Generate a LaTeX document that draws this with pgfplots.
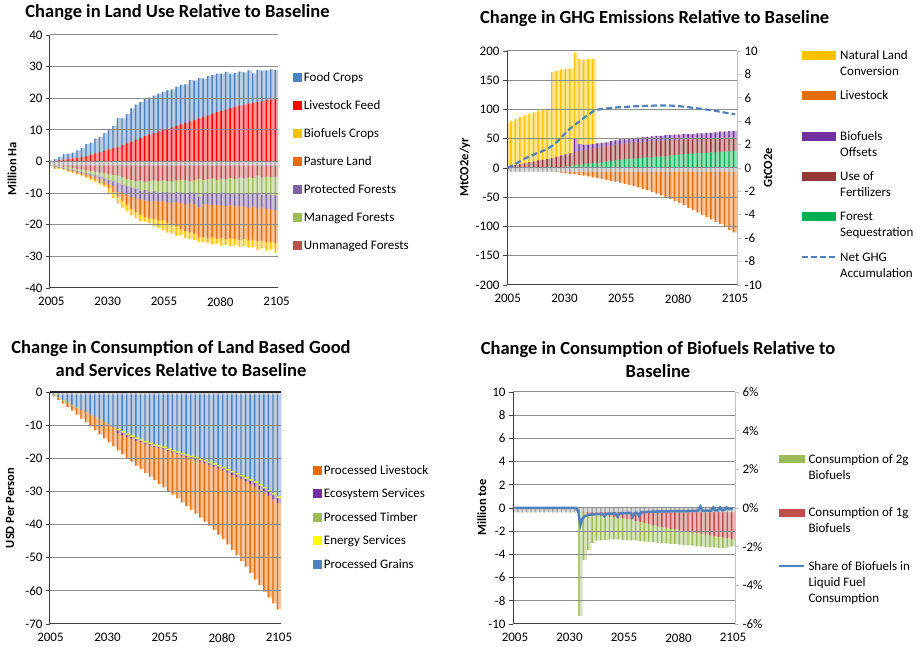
\documentclass[border=0pt]{standalone}
\usepackage{pgfplots}
\pgfplotsset{compat=1.18}
\usepackage{pgfplotstable}
\usepackage{fontspec}
\setmainfont{Carlito}
\definecolor{cBlue}{HTML}{4F81BD}
\definecolor{cRed}{HTML}{FF0000}
\definecolor{cGold}{HTML}{FFC000}
\definecolor{cOrange}{HTML}{E46C0A}
\definecolor{cLav}{HTML}{8064A2}
\definecolor{cOlive}{HTML}{9BBB59}
\definecolor{cBrick}{HTML}{C0504D}
\definecolor{cGray}{HTML}{A6A6A6}
\definecolor{cPurple}{HTML}{7030A0}
\definecolor{cMaroon}{HTML}{953735}
\definecolor{cGreen}{HTML}{00B050}
\definecolor{cYellow}{HTML}{FFFF00}
\definecolor{gridc}{HTML}{8C8C8C}
\definecolor{axc}{HTML}{404040}
\definecolor{axr}{HTML}{BFBFBF}

\newcommand\tl{\fontsize{13}{16}\selectfont}
\newcommand\lbl{\bfseries\fontsize{12.5}{15}\selectfont}
\newcommand\ttl{\bfseries\fontsize{18.5}{23}\selectfont}
\newcommand\lt[2]{\parbox[t][#1][t]{125pt}{\raggedright\strut #2}}
\newcommand\lbox[3]{\addlegendimage{legend image code/.code={\fill[#1] (0pt,{4.3pt-#3/2}) rectangle (#2,{4.3pt+#3/2});}}}
\newcommand\lline[2]{\addlegendimage{legend image code/.code={\draw[#1] (0pt,4.3pt) -- (#2,4.3pt);}}}

\pgfplotsset{
  base/.style={
    scale only axis, ybar, axis on top,
    tick label style={font=\tl},
    /pgf/number format/assume math mode=true,
    ymajorgrids, grid style={gridc, line width=1pt},
    axis x line*=bottom, axis y line*=left,
    axis line style={axc, line width=1pt, -},
    xtick={2005,2030,2055,2080,2105},
    x tick label style={/pgf/number format/1000 sep={}},
    xtick style={draw=none},
    ytick style={axc, line width=0.8pt},
    tick align=outside, major tick length=4pt,
    xticklabel style={yshift=-2pt},
    ylabel style={font=\lbl, anchor=center},
  },
  sec/.style={
    scale only axis, axis x line=none, axis y line*=right,
    axis line style={axr, line width=1pt, -},
    ytick style={axr, line width=0.8pt}, tick align=outside, major tick length=4pt,
    tick label style={font=\tl},
    /pgf/number format/assume math mode=true,
    ylabel style={font=\lbl, anchor=center},
  },
  leg/.style={legend cell align=left,
    legend style={draw=none, fill=none, inner sep=0pt, outer sep=0pt, font=\tl,
      anchor=north west, cells={anchor=base west}, nodes={inner sep=0pt}}},
  pale/.style={fill=#1!40!white, draw=none, bar width=4.5pt, bar shift=0pt, forget plot},
  dark/.style={fill=#1, draw=none, bar width=1.4pt, bar shift=-1.4pt, forget plot},
}

\pgfplotstableread{
x food feed gray U M P O Y
2005 0.3 0.0 -1.2 -1.2 -1.3 -1.3 -1.4 -1.5
2007 0.8 0.2 -1.2 -1.3 -1.5 -1.6 -2.2 -2.3
2009 1.5 0.4 -1.2 -1.4 -1.8 -2.0 -2.0 -2.3
2011 2.4 0.6 -1.2 -1.6 -2.0 -2.3 -2.4 -2.7
2013 2.5 0.8 -1.2 -1.8 -2.3 -2.6 -3.0 -3.3
2015 2.8 1.0 -1.2 -2.0 -2.6 -2.9 -3.3 -3.6
2017 3.5 1.2 -1.2 -2.3 -3.0 -3.3 -3.8 -4.1
2019 4.3 1.4 -1.2 -2.6 -3.3 -3.7 -4.3 -4.6
2021 5.5 1.8 -1.2 -2.9 -3.6 -4.1 -4.8 -5.2
2023 6.0 2.2 -1.2 -3.0 -4.0 -4.5 -5.4 -5.9
2025 7.2 2.6 -1.2 -3.2 -4.3 -5.0 -6.0 -6.5
2027 7.8 3.0 -1.2 -3.5 -4.8 -5.6 -6.8 -7.3
2029 9.0 3.4 -1.2 -3.7 -5.3 -6.2 -7.4 -8.0
2031 10.0 3.8 -1.2 -4.0 -5.8 -7.0 -8.4 -10.0
2033 11.3 4.2 -1.2 -4.2 -6.3 -7.8 -9.6 -11.5
2035 13.8 4.6 -1.2 -4.5 -6.8 -9.6 -11.2 -13.3
2037 13.6 5.2 -1.2 -5.0 -7.3 -10.0 -12.5 -14.6
2039 15.0 5.7 -1.2 -5.5 -7.8 -10.6 -13.6 -15.6
2041 16.8 6.3 -1.2 -5.8 -8.2 -11.2 -15.0 -17.0
2043 18.0 6.9 -1.2 -6.2 -8.6 -11.6 -15.9 -17.8
2045 18.8 7.5 -1.2 -6.0 -9.2 -12.0 -16.8 -18.8
2047 19.8 8.0 -1.2 -6.4 -9.0 -12.3 -17.5 -19.0
2049 20.2 8.6 -1.2 -6.2 -9.5 -12.5 -18.0 -19.5
2051 20.8 9.0 -1.2 -6.0 -9.4 -12.4 -18.2 -20.5
2053 21.5 9.5 -1.2 -6.3 -9.8 -12.7 -18.6 -21.0
2055 21.9 9.9 -1.2 -6.0 -9.6 -12.7 -18.5 -21.7
2057 22.5 10.4 -1.2 -6.1 -9.7 -12.9 -19.5 -22.5
2059 22.8 10.8 -1.2 -6.3 -10.0 -13.0 -20.2 -22.8
2061 23.7 11.3 -1.2 -6.0 -9.6 -12.8 -20.5 -23.5
2063 24.2 11.7 -1.2 -5.8 -9.8 -13.2 -21.5 -23.3
2065 24.4 12.2 -1.2 -6.0 -10.0 -13.4 -22.0 -24.2
2067 25.7 12.7 -1.2 -6.2 -9.7 -13.1 -22.4 -24.5
2069 25.6 13.2 -1.2 -6.0 -10.2 -13.6 -22.8 -24.8
2071 26.4 13.6 -1.2 -5.5 -11.0 -14.5 -24.0 -25.5
2073 26.2 14.1 -1.2 -5.8 -10.0 -13.5 -23.8 -25.4
2075 27.0 14.6 -1.2 -5.6 -9.9 -13.6 -24.3 -25.8
2077 27.3 15.1 -1.2 -5.3 -10.2 -13.8 -24.0 -26.2
2079 27.8 15.6 -1.2 -5.8 -10.0 -13.7 -24.4 -26.0
2081 27.8 16.0 -1.2 -5.4 -9.8 -13.9 -24.2 -26.6
2083 28.3 16.5 -1.2 -5.6 -10.2 -14.0 -24.6 -26.4
2085 27.6 16.9 -1.2 -5.2 -10.0 -13.8 -24.3 -26.8
2087 28.0 17.3 -1.2 -5.5 -10.3 -14.2 -24.5 -26.5
2089 28.4 17.7 -1.2 -5.1 -10.0 -14.0 -24.8 -27.0
2091 28.2 18.0 -1.2 -5.3 -10.1 -14.3 -24.5 -26.8
2093 28.8 18.3 -1.2 -5.0 -10.4 -14.6 -25.0 -27.2
2095 27.9 18.6 -1.2 -5.2 -10.0 -14.2 -24.7 -27.0
2097 29.0 18.9 -1.2 -4.5 -10.3 -14.8 -25.2 -28.0
2099 28.7 19.1 -1.2 -5.0 -10.5 -14.6 -25.0 -27.4
2101 28.8 19.4 -1.2 -4.8 -10.2 -15.0 -25.6 -28.2
2103 29.1 19.6 -1.2 -5.0 -10.6 -15.2 -25.4 -27.8
2105 29.0 19.8 -1.2 -4.8 -10.6 -15.4 -25.9 -28.8
}\tabA

\pgfplotstableread{
x nlc bio fert forest gray live net
2005 76 1 1 0 -6 -1 0
2007 80 3 3 0 -6 -1.5 0.2
2009 84 5 5 0 -6 -2 0.4
2011 87 6 6 0 -6 -2.5 0.65
2013 90 8 8 0 -6 -3 0.85
2015 93 10 10 0 -6 -3.5 1.0
2017 95 11 11 0 -6 -4 1.2
2019 98 13 13 0 -6 -4.5 1.35
2021 100 14 14 0 -6 -5 1.5
2023 101 15 15 0 -6 -5.5 1.7
2025 164 17 17 0 -6 -6 1.95
2027 166 19 19 0.5 -6 -7 2.3
2029 168 21 21 1.5 -6 -8 2.7
2031 170 23 23 2.5 -6 -9 3.1
2033 170 25 25 3.5 -6 -10 3.45
2035 197 50 27 4.5 -6 -11 3.75
2037 186 41 29 5.5 -6 -12 4.05
2039 185 40 30 6.5 -6 -13 4.35
2041 186 40 32 7.5 -6 -14.5 4.6
2043 186 41 33 8 -6 -16 4.9
2045 42 42 35 9 -6 -17.5 5.0
2047 43 43 36 10 -6 -19 5.05
2049 44 44 37 11 -6 -20.5 5.1
2051 46 46 38 12 -6 -22 5.15
2053 47 47 40 13 -6 -23.5 5.18
2055 49 49 41 14 -6 -25 5.2
2057 49 49 42 15 -6 -27 5.22
2059 50 50 43 15.5 -6 -29 5.25
2061 51 51 44 16 -6 -31 5.27
2063 52 52 44 17 -6 -33 5.29
2065 53 53 45 17.5 -6 -35.5 5.3
2067 53 53 45 18 -6 -38 5.32
2069 54 54 46 18.5 -6 -41 5.33
2071 55 55 46 19 -6 -44 5.34
2073 55 55 47 19.5 -6 -47 5.34
2075 56 56 47 20 -6 -50 5.34
2077 56 56 48 21 -6 -53 5.33
2079 57 57 48 22 -6 -56.5 5.3
2081 57 57 48 23 -6 -60 5.27
2083 58 58 49 23.5 -6 -64 5.23
2085 58 58 49 24 -6 -68 5.18
2087 58 58 49 24.5 -6 -72 5.13
2089 59 59 50 25 -6 -76 5.08
2091 59 59 50 25.5 -6 -80 5.03
2093 60 60 50 26 -6 -84 4.98
2095 60 60 51 26.5 -6 -88 4.93
2097 61 61 51 27 -6 -92 4.86
2099 62 62 51 27.5 -6 -96 4.79
2101 62 62 52 28 -6 -101 4.72
2103 63 63 52 28.5 -6 -106 4.66
2105 63 63 52 29 -6 -110 4.6
}\tabB

\pgfplotstableread{
x gray B Yb Gb P O
2005 -0.8 -0.3 -0.3 -0.3 -0.3 -0.3
2007 -0.8 -1.0 -1.0 -1.0 -1.0 -1.3
2009 -0.8 -1.7 -1.7 -1.7 -1.7 -2.4
2011 -0.8 -2.5 -2.5 -2.5 -2.5 -3.5
2013 -0.8 -3.2 -3.2 -3.2 -3.2 -4.6
2015 -0.8 -4.0 -4.0 -4.0 -4.0 -5.6
2017 -0.8 -4.7 -4.7 -4.7 -4.7 -6.8
2019 -0.8 -5.4 -5.4 -5.4 -5.4 -8.0
2021 -0.8 -6.1 -6.1 -6.1 -6.1 -9.2
2023 -0.8 -6.8 -6.8 -6.8 -6.8 -10.4
2025 -0.8 -7.5 -7.5 -7.5 -7.5 -11.6
2027 -0.8 -8.3 -8.3 -8.3 -8.3 -12.8
2029 -0.8 -9.0 -9.0 -9.0 -9.0 -14.0
2031 -0.8 -9.8 -9.8 -9.8 -9.8 -15.2
2033 -0.8 -10.5 -10.5 -10.5 -10.5 -16.4
2035 -0.8 -11.1 -11.45 -11.55 -12.4 -17.6
2037 -0.8 -11.8 -12.15 -12.25 -13.0 -18.8
2039 -0.8 -12.5 -12.85 -12.95 -13.6 -19.9
2041 -0.8 -13.1 -13.45 -13.55 -14.1 -21.0
2043 -0.8 -13.7 -14.05 -14.15 -14.7 -22.2
2045 -0.8 -14.3 -14.65 -14.75 -15.2 -23.3
2047 -0.8 -14.8 -15.15 -15.25 -15.7 -24.4
2049 -0.8 -15.3 -15.65 -15.75 -16.1 -25.5
2051 -0.8 -15.8 -16.15 -16.25 -16.6 -26.6
2053 -0.8 -16.1 -16.45 -16.55 -16.9 -27.7
2055 -0.8 -16.5 -16.85 -16.95 -17.3 -28.8
2057 -0.8 -17.0 -17.35 -17.45 -17.8 -29.9
2059 -0.8 -17.5 -17.85 -17.95 -18.3 -31.0
2061 -0.8 -17.9 -18.25 -18.35 -18.7 -32.1
2063 -0.8 -18.4 -18.75 -18.85 -19.2 -33.3
2065 -0.8 -18.8 -19.15 -19.25 -19.6 -34.4
2067 -0.8 -19.2 -19.55 -19.65 -20.0 -35.5
2069 -0.8 -19.6 -19.95 -20.05 -20.5 -36.7
2071 -0.8 -20.1 -20.45 -20.55 -21.0 -37.9
2073 -0.8 -20.5 -20.85 -20.95 -21.5 -39.1
2075 -0.8 -21.0 -21.35 -21.45 -22.0 -40.3
2077 -0.8 -21.5 -21.85 -21.95 -22.5 -41.6
2079 -0.8 -22.0 -22.35 -22.45 -23.0 -43.0
2081 -0.8 -22.6 -22.95 -23.05 -23.6 -44.4
2083 -0.8 -23.2 -23.55 -23.65 -24.3 -46.0
2085 -0.8 -23.8 -24.15 -24.25 -25.0 -47.6
2087 -0.8 -24.4 -24.75 -24.85 -25.6 -49.3
2089 -0.8 -25.0 -25.35 -25.45 -26.3 -51.0
2091 -0.8 -25.7 -26.05 -26.15 -27.0 -52.7
2093 -0.8 -26.3 -26.65 -26.75 -27.8 -54.6
2095 -0.8 -27.0 -27.35 -27.45 -28.5 -56.5
2097 -0.8 -27.8 -28.15 -28.25 -29.4 -58.3
2099 -0.8 -28.6 -28.95 -29.05 -30.3 -60.2
2101 -0.8 -29.5 -29.85 -29.95 -31.3 -62.0
2103 -0.8 -30.5 -30.85 -30.95 -32.4 -63.8
2105 -0.8 -31.5 -31.85 -31.95 -33.5 -65.6
}\tabC

\pgfplotstableread{
x gray R G
2005 -0.35 -0.35 -0.35
2007 -0.35 -0.35 -0.35
2009 -0.35 -0.35 -0.35
2011 -0.35 -0.35 -0.35
2013 -0.35 -0.35 -0.35
2015 -0.35 -0.35 -0.35
2017 -0.35 -0.35 -0.35
2019 -0.35 -0.35 -0.35
2021 -0.35 -0.35 -0.35
2023 -0.35 -0.35 -0.35
2025 -0.35 -0.35 -0.35
2027 -0.35 -0.35 -0.35
2029 -0.35 -0.35 -0.35
2031 -0.35 -0.35 -0.35
2033 -0.35 -0.35 -0.35
2035 -0.35 -0.3 -9.3
2037 -0.35 -0.4 -4.5
2039 -0.35 -0.5 -3.6
2041 -0.35 -0.55 -3.0
2043 -0.35 -0.6 -2.8
2045 -0.35 -0.65 -2.8
2047 -0.35 -0.7 -2.75
2049 -0.35 -0.75 -2.7
2051 -0.35 -0.8 -2.7
2053 -0.35 -0.85 -2.7
2055 -0.35 -0.9 -2.75
2057 -0.35 -0.95 -2.8
2059 -0.35 -1.0 -2.8
2061 -0.35 -1.1 -2.8
2063 -0.35 -1.2 -2.85
2065 -0.35 -1.3 -2.9
2067 -0.35 -1.4 -2.9
2069 -0.35 -1.5 -2.95
2071 -0.35 -1.6 -3.0
2073 -0.35 -1.65 -3.0
2075 -0.35 -1.7 -3.05
2077 -0.35 -1.8 -3.1
2079 -0.35 -1.85 -3.1
2081 -0.35 -1.9 -3.15
2083 -0.35 -2.0 -3.2
2085 -0.35 -2.05 -3.2
2087 -0.35 -2.1 -3.25
2089 -0.35 -2.15 -3.3
2091 -0.35 -2.2 -3.3
2093 -0.35 -2.3 -3.35
2095 -0.35 -2.35 -3.4
2097 -0.35 -2.45 -3.4
2099 -0.35 -2.5 -3.45
2101 -0.35 -2.55 -3.45
2103 -0.35 -2.6 -3.4
2105 -0.35 -2.7 -3.3
}\tabD

\begin{document}
\begin{tikzpicture}[x=1pt,y=1pt]
\useasboundingbox (0,0) rectangle (918,647);

% ---------------- Panel 1 ----------------
\begin{axis}[base, leg, at={(50pt,359pt)}, anchor=south west, width=228pt, height=253pt,
  xmin=2004.4, xmax=2105.6, ymin=-40, ymax=40, ytick={-40,-30,...,40},
  ylabel={Million Ha}, ylabel style={at={(axis description cs:-0.1667,0.47)}},
  legend style={at={(1.067,0.8613)}, row sep=15.3pt, column sep=2.5pt}]
\addplot[pale=cBlue] table[x=x,y=food]{\tabA};
\addplot[dark=cBlue] table[x=x,y=food]{\tabA};
\addplot[pale=cRed] table[x=x,y=feed]{\tabA};
\addplot[dark=cRed] table[x=x,y=feed]{\tabA};
\addplot[pale=cGold] table[x=x,y=Y]{\tabA};
\addplot[dark=cGold] table[x=x,y=Y]{\tabA};
\addplot[pale=cOrange] table[x=x,y=O]{\tabA};
\addplot[dark=cOrange] table[x=x,y=O]{\tabA};
\addplot[pale=cLav] table[x=x,y=P]{\tabA};
\addplot[dark=cLav] table[x=x,y=P]{\tabA};
\addplot[pale=cOlive] table[x=x,y=M]{\tabA};
\addplot[dark=cOlive] table[x=x,y=M]{\tabA};
\addplot[pale=cBrick] table[x=x,y=U]{\tabA};
\addplot[dark=cBrick] table[x=x,y=U]{\tabA};
\addplot[pale=cGray] table[x=x,y=gray]{\tabA};
\addplot[dark=cGray] table[x=x,y=gray]{\tabA};
\lbox{cBlue}{7.7pt}{7.7pt}\addlegendentry{\lt{16pt}{Food Crops}}
\lbox{cRed}{7.7pt}{7.7pt}\addlegendentry{\lt{16pt}{Livestock Feed}}
\lbox{cGold}{7.7pt}{7.7pt}\addlegendentry{\lt{16pt}{Biofuels Crops}}
\lbox{cOrange}{7.7pt}{7.7pt}\addlegendentry{\lt{16pt}{Pasture Land}}
\lbox{cLav}{7.7pt}{7.7pt}\addlegendentry{\lt{16pt}{Protected Forests}}
\lbox{cOlive}{7.7pt}{7.7pt}\addlegendentry{\lt{16pt}{Managed Forests}}
\lbox{cBrick}{7.7pt}{7.7pt}\addlegendentry{\lt{16pt}{Unmanaged Forests}}
\end{axis}

% ---------------- Panel 2 ----------------
\begin{axis}[base, at={(507pt,362pt)}, anchor=south west, width=230pt, height=234pt,
  xmin=2004.7, xmax=2105.9, ymin=-200, ymax=200, ytick={-200,-150,...,200},
  ylabel={MtCO2e/yr}, ylabel style={at={(axis description cs:-0.1826,0.502)}}]
\addplot[pale=cGold] table[x=x,y=nlc]{\tabB};
\addplot[dark=cGold] table[x=x,y=nlc]{\tabB};
\addplot[pale=cPurple] table[x=x,y=bio]{\tabB};
\addplot[dark=cPurple] table[x=x,y=bio]{\tabB};
\addplot[pale=cMaroon] table[x=x,y=fert]{\tabB};
\addplot[dark=cMaroon] table[x=x,y=fert]{\tabB};
\addplot[pale=cGreen] table[x=x,y=forest]{\tabB};
\addplot[dark=cGreen] table[x=x,y=forest]{\tabB};
\addplot[pale=cOrange] table[x=x,y=live]{\tabB};
\addplot[dark=cOrange] table[x=x,y=live]{\tabB};
\addplot[pale=cGray] table[x=x,y=gray]{\tabB};
\addplot[dark=cGray] table[x=x,y=gray]{\tabB};
\end{axis}
\begin{axis}[sec, leg, at={(507pt,362pt)}, anchor=south west, width=230pt, height=234pt,
  xmin=2004.7, xmax=2105.9, ymin=-10, ymax=10, ytick={-10,-8,...,10},
  ylabel={GtCO2e}, ylabel style={at={(axis description cs:1.135,0.5)}},
  legend style={at={(1.2783,1.0124)}, row sep=27.7pt, column sep=4pt}]
\addplot[cBlue, line width=2.2pt, dash pattern=on 6pt off 3pt, no markers, forget plot] table[x=x,y=net]{\tabB};
\lbox{cGold}{33pt}{8pt}\addlegendentry{\lt{32pt}{Natural Land\\Conversion}}
\lbox{cOrange}{33pt}{8pt}\addlegendentry{\lt{32pt}{Livestock}}
\lbox{cPurple}{33pt}{8pt}\addlegendentry{\lt{32pt}{Biofuels\\Offsets}}
\lbox{cMaroon}{33pt}{8pt}\addlegendentry{\lt{32pt}{Use of\\Fertilizers}}
\lbox{cGreen}{33pt}{8pt}\addlegendentry{\lt{32pt}{Forest\\Sequestration}}
\lline{cBlue, line width=2.2pt, dash pattern=on 6pt off 3pt}{33pt}\addlegendentry{\lt{32pt}{Net GHG\\Accumulation}}
\end{axis}

% ---------------- Panel 3 ----------------
\begin{axis}[base, leg, at={(50pt,23pt)}, anchor=south west, width=231pt, height=232pt,
  xmin=2004.8, xmax=2105.9, ymin=-70, ymax=0, ytick={-70,-60,...,0},
  extra y ticks={0}, extra y tick labels={}, extra y tick style={grid style={black!85, line width=1.2pt}},
  ylabel={USD Per Person}, ylabel style={at={(axis description cs:-0.173,0.5)}},
  legend style={at={(1.140,0.6935)}, row sep=10.8pt, column sep=2.5pt}]
\addplot[pale=cOrange] table[x=x,y=O]{\tabC};
\addplot[dark=cOrange] table[x=x,y=O]{\tabC};
\addplot[pale=cPurple] table[x=x,y=P]{\tabC};
\addplot[dark=cPurple] table[x=x,y=P]{\tabC};
\addplot[pale=cOlive] table[x=x,y=Gb]{\tabC};
\addplot[dark=cOlive] table[x=x,y=Gb]{\tabC};
\addplot[fill=cYellow, draw=none, bar width=4.5pt, bar shift=0pt, forget plot] table[x=x,y=Yb]{\tabC};
\addplot[pale=cBlue] table[x=x,y=B]{\tabC};
\addplot[dark=cBlue] table[x=x,y=B]{\tabC};
\addplot[pale=cGray] table[x=x,y=gray]{\tabC};
\addplot[dark=cGray] table[x=x,y=gray]{\tabC};
\lbox{cOrange}{7.7pt}{7.7pt}\addlegendentry{\lt{16pt}{Processed Livestock}}
\lbox{cPurple}{7.7pt}{7.7pt}\addlegendentry{\lt{16pt}{Ecosystem Services}}
\lbox{cOlive}{7.7pt}{7.7pt}\addlegendentry{\lt{16pt}{Processed Timber}}
\lbox{cYellow}{7.7pt}{7.7pt}\addlegendentry{\lt{16pt}{Energy Services}}
\lbox{cBlue}{7.7pt}{7.7pt}\addlegendentry{\lt{16pt}{Processed Grains}}
\end{axis}

% ---------------- Panel 4 ----------------
\begin{axis}[base, at={(513pt,23pt)}, anchor=south west, width=222pt, height=232pt,
  xmin=2004.1, xmax=2105.9, ymin=-10, ymax=10, ytick={-10,-8,...,10},
  ylabel={Million toe}, ylabel style={at={(axis description cs:-0.141,0.502)}}]
\addplot[pale=cOlive] table[x=x,y=G]{\tabD};
\addplot[dark=cOlive] table[x=x,y=G]{\tabD};
\addplot[pale=cBrick] table[x=x,y=R]{\tabD};
\addplot[dark=cBrick] table[x=x,y=R]{\tabD};
\addplot[pale=cGray] table[x=x,y=gray]{\tabD};
\addplot[dark=cGray] table[x=x,y=gray]{\tabD};
\end{axis}
\begin{axis}[sec, leg, at={(513pt,23pt)}, anchor=south west, width=222pt, height=232pt,
  xmin=2004.1, xmax=2105.9, ymin=-6, ymax=6, ytick={-6,-4,...,6},
  yticklabel={\pgfmathprintnumber{\tick}\%},
  legend style={at={(1.1937,0.741)}, row sep=40.8pt, column sep=3pt}]
\addplot[cBlue, line width=2.5pt, no markers, forget plot] coordinates {
(2005,0) (2033,0) (2034,-0.15) (2035,-0.88) (2036,-0.55) (2037,-0.42) (2039,-0.35)
(2042,-0.32) (2045,-0.3) (2046,-0.42) (2047,-0.3) (2051,-0.28) (2052,-0.44) (2053,-0.28)
(2058,-0.25) (2059,-0.45) (2060,-0.25) (2061,-0.25) (2062,-0.43) (2063,-0.22) (2070,-0.18)
(2080,-0.16) (2089,-0.15) (2090,0.08) (2091,-0.14) (2095,-0.14) (2096,0.03) (2097,-0.12)
(2098,-0.12) (2099,0.03) (2100,-0.12) (2101,-0.1) (2102,0.03) (2103,-0.05) (2105,-0.02)};
\lbox{cOlive}{25pt}{7.3pt}\addlegendentry{\lt{48pt}{Consumption of 2g\\Biofuels}}
\lbox{cBrick}{25pt}{7.3pt}\addlegendentry{\lt{48pt}{Consumption of 1g\\Biofuels}}
\lline{cBlue, line width=2.5pt}{25pt}\addlegendentry{\lt{48pt}{Share of Biofuels in\\Liquid Fuel\\Consumption}}
\end{axis}

% ---------------- Titles ----------------
\node[font=\ttl] at (177.5,634.7) {Change in Land Use Relative to Baseline};
\node[font=\ttl] at (654.7,628) {Change in GHG Emissions Relative to Baseline};
\node[font=\ttl, align=center] at (181,288.5) {Change in Consumption of Land Based Good\\and Services Relative to Baseline};
\node[font=\ttl, align=center] at (658,287) {Change in Consumption of Biofuels Relative to\\Baseline};
\end{tikzpicture}
\end{document}
